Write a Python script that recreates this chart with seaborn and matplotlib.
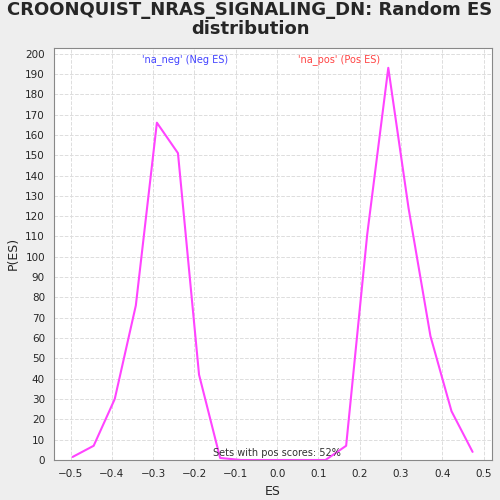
import matplotlib
matplotlib.use("Agg")
import matplotlib.pyplot as plt
import seaborn as sns
import numpy as np

es = [-0.495, -0.444, -0.393, -0.342, -0.291, -0.240, -0.189, -0.138, -0.087, -0.036, 0.015, 0.066, 0.117, 0.167, 0.218, 0.269, 0.318, 0.371, 0.422, 0.473]
pes = [1.5, 7, 30, 76, 166, 151, 42, 1, 0, 0, 0, 0, 0, 7, 111, 193, 124, 61, 24, 4]

sns.set_style("white")
fig = plt.figure(figsize=(5, 5), dpi=100, facecolor="#EEEEEE")
ax = fig.add_axes([0.108, 0.08, 0.876, 0.825])
ax.set_facecolor("white")
sns.lineplot(x=es, y=pes, ax=ax, color="#FF44FF", linewidth=1.5)
ax.set_xlim(-0.54, 0.52)
ax.set_ylim(0, 203)
ax.set_xticks(np.round(np.arange(-0.5, 0.51, 0.1), 1))
ax.set_yticks(np.arange(0, 201, 10))
ax.tick_params(labelsize=7.5, length=3)
ax.grid(True, linestyle="--", color="#DDDDDD", linewidth=0.7)
for s in ax.spines.values():
    s.set_color("#888888")
ax.set_xlabel("ES", fontsize=9)
ax.set_ylabel("P(ES)", fontsize=9)
fig.suptitle("CROONQUIST_NRAS_SIGNALING_DN: Random ES\ndistribution", fontsize=13, fontweight="bold", y=0.998, linespacing=1.1)
ax.text(0.3, 0.985, "'na_neg' (Neg ES)", color="#4444FF", fontsize=7, transform=ax.transAxes, ha="center", va="top")
ax.text(0.65, 0.985, "'na_pos' (Pos ES)", color="#FF4444", fontsize=7, transform=ax.transAxes, ha="center", va="top")
ax.text(0.0, 1, "Sets with pos scores: 52%", fontsize=7, ha="center", va="bottom", color="#333333")
fig.savefig("out.png", dpi=100, facecolor=fig.get_facecolor())
